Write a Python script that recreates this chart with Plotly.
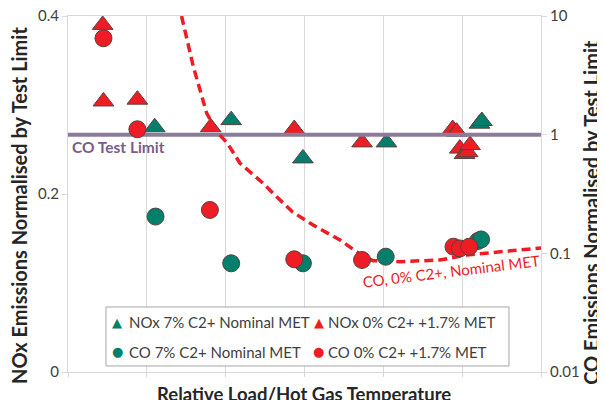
import plotly.graph_objects as go

# ---- data ----
nox_7_x = [1.10, 2.07, 2.98, 4.04, 5.22, 5.25]
nox_7_y = [0.275, 0.283, 0.240, 0.258, 0.279, 0.282]

nox_0_x = [0.44, 0.45, 0.88, 1.81, 2.87, 3.73, 4.88, 4.93, 4.97, 5.03, 5.07, 5.10]
nox_0_y = [0.390, 0.304, 0.306, 0.275, 0.273, 0.258, 0.273, 0.270, 0.251, 0.245, 0.247, 0.255]

co_7_x = [1.11, 2.07, 2.98, 4.03, 5.20, 5.24]
co_7_y = [0.204, 0.0824, 0.0824, 0.0937, 0.127, 0.131]

co_0_x = [0.45, 0.88, 1.80, 2.87, 3.73, 4.89, 4.97, 5.09]
co_0_y = [6.49, 1.11, 0.232, 0.0891, 0.0879, 0.1137, 0.110, 0.1137]

curve_x = [1.44, 1.59, 1.76, 1.90, 2.02, 2.18, 2.31, 2.47, 2.65, 2.85, 3.11, 3.45, 3.70, 3.87, 4.21, 4.72, 5.06, 5.95, 6.0]
curve_y = [10.0, 3.74, 1.51, 1.033, 0.851, 0.577, 0.485, 0.392, 0.298, 0.223, 0.173, 0.1295, 0.099, 0.0867, 0.0851, 0.0879, 0.0968, 0.110, 0.111]

limit_x = [0, 6]
limit_y = [1, 1]

left_ticks = [0, 0.2, 0.4]
left_labels = ["0", "0.2", "0.4"]
right_ticks = [0.01, 0.1, 1, 10]
right_labels = ["0.01", "0.1", "1", "10"]

legend_names = ["NOx 7% C2+ Nominal MET", "NOx 0% C2+ +1.7% MET",
                "CO 7% C2+ Nominal MET", "CO 0% C2+ +1.7% MET"]

GREEN = "#00806B"
RED = "#EE1C25"
EDGE = "#5A4040"
PURPLE_LINE = "#8D7B9A"
PURPLE_TEXT = "#7A5C8C"
FONT = "Lato"
TXT = "#404040"
TITLE = "#262626"

fig = go.Figure()

fig.add_trace(go.Scatter(x=limit_x, y=limit_y, yaxis="y2", mode="lines",
                         line=dict(color=PURPLE_LINE, width=4), showlegend=False, hoverinfo="skip"))
fig.add_trace(go.Scatter(x=curve_x, y=curve_y, yaxis="y2", mode="lines",
                         line=dict(color=RED, width=3.5, dash="9px,5px"), showlegend=False, hoverinfo="skip"))

mk = dict(line=dict(color=EDGE, width=1))
fig.add_trace(go.Scatter(x=nox_7_x, y=nox_7_y, mode="markers", name=legend_names[0], cliponaxis=False,
                         marker=dict(symbol="triangle-up", size=18, color=GREEN, **mk)))
fig.add_trace(go.Scatter(x=nox_0_x, y=nox_0_y, mode="markers", name=legend_names[1], cliponaxis=False,
                         marker=dict(symbol="triangle-up", size=18, color=RED, **mk)))
fig.add_trace(go.Scatter(x=co_7_x, y=co_7_y, yaxis="y2", mode="markers", name=legend_names[2], cliponaxis=False,
                         marker=dict(symbol="circle", size=17, color=GREEN, **mk)))
fig.add_trace(go.Scatter(x=co_0_x, y=co_0_y, yaxis="y2", mode="markers", name=legend_names[3], cliponaxis=False,
                         marker=dict(symbol="circle", size=17, color=RED, **mk)))

# text labels
fig.add_annotation(x=0.02, y=0.2528, xref="x", yref="y", text="<b>CO Test Limit</b>", showarrow=False,
                   xanchor="left", yanchor="middle", font=dict(family=FONT, size=15.5, color=PURPLE_TEXT))
fig.add_annotation(x=0.81, y=0.284, xref="paper", yref="paper", text="CO, 0% C2+, Nominal MET",
                   showarrow=False, textangle=-7, xanchor="center", yanchor="middle",
                   font=dict(family=FONT, size=15, color=RED))

# axis titles
fig.add_annotation(x=-0.1036, y=0.469, xref="paper", yref="paper", text="<b>NOx Emissions Normalised by Test Limit</b>",
                   showarrow=False, textangle=-90, xanchor="center", yanchor="middle",
                   font=dict(family=FONT, size=20, color=TITLE))
fig.add_annotation(x=1.105, y=0.449, xref="paper", yref="paper", text="<b>CO Emissions Normalised by Test Limit</b>",
                   showarrow=False, textangle=-90, xanchor="center", yanchor="middle",
                   font=dict(family=FONT, size=20, color=TITLE))
fig.add_annotation(x=0.499, y=-0.062, xref="paper", yref="paper", text="<b>Relative Load/Hot Gas Temperature</b>",
                   showarrow=False, xanchor="center", yanchor="middle",
                   font=dict(family=FONT, size=18.5, color=TITLE))

# legend box
fig.add_shape(type="rect", xref="paper", yref="paper", x0=0.0803, x1=0.9323, y0=0.0169, y1=0.1826,
              line=dict(color="#A6A6A6", width=1), fillcolor="white", layer="above")
leg_items = [
    (legend_names[0], "▲", GREEN, 0.1036, 0.1247, 0.1404),
    (legend_names[1], "▲", RED, 0.5305, 0.5450, 0.1404),
    (legend_names[2], "●", GREEN, 0.1036, 0.1247, 0.0562),
    (legend_names[3], "●", RED, 0.5305, 0.5450, 0.0562),
]
for name, glyph, col, mx, tx, ty in leg_items:
    fig.add_annotation(x=mx, y=ty, xref="paper", yref="paper", text=glyph, showarrow=False,
                       xanchor="center", yanchor="middle", font=dict(family="DejaVu Sans", size=13, color=col))
    fig.add_annotation(x=tx, y=ty, xref="paper", yref="paper", text=name, showarrow=False,
                       xanchor="left", yanchor="middle", font=dict(family=FONT, size=15, color=TXT))

fig.update_layout(
    width=605, height=400,
    margin=dict(l=60, r=72, t=8, b=36, autoexpand=False),
    paper_bgcolor="white", plot_bgcolor="white",
    font=dict(family=FONT, size=15, color=TXT),
    showlegend=False,
    xaxis=dict(range=[0, 6], dtick=1, tick0=0, showgrid=True, gridcolor="#D9D9D9", gridwidth=1,
               showticklabels=False, zeroline=False, showline=True, linecolor="#D9D9D9", mirror=True,
               ticks="outside", ticklen=4, tickcolor="#D9D9D9", automargin=False),
    yaxis=dict(range=[0, 0.4], tickvals=left_ticks, ticktext=left_labels, showgrid=False, zeroline=False,
               showline=True, linecolor="#D9D9D9", mirror=True, ticks="outside", ticklen=5, tickcolor="#D9D9D9",
               tickfont=dict(size=15, color=TXT), automargin=False, ticklabeloverflow="allow"),
    yaxis2=dict(type="log", range=[-2, 1], overlaying="y", side="right", tickvals=right_ticks,
                ticktext=right_labels, showgrid=False, zeroline=False, showline=False,
                ticks="outside", ticklen=5, tickcolor="#D9D9D9", tickfont=dict(size=15, color=TXT),
                automargin=False, ticklabeloverflow="allow"),
)

fig.write_html("out.html")
